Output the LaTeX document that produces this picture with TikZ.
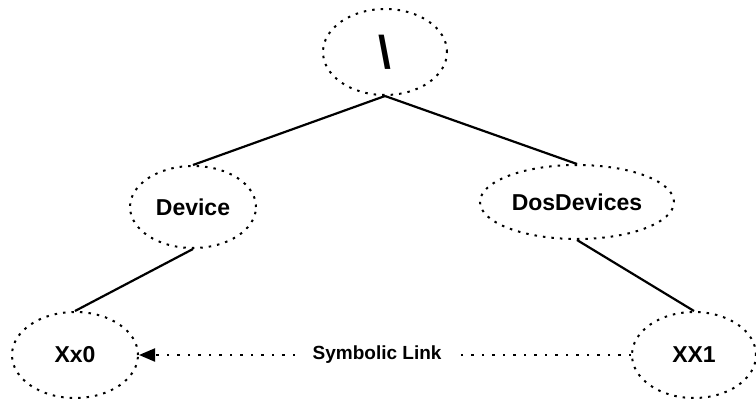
\documentclass[tikz,border=0pt]{standalone}
\usepackage{fontspec}
\setmainfont{Liberation Sans}
\usetikzlibrary{shapes.geometric,arrows.meta}
\tikzset{
  dirnode/.style={ellipse, draw, line width=2pt, dash pattern=on 2.5pt off 6pt,
    inner sep=0pt, font=\fontsize{23}{27}\selectfont\bfseries},
  treeline/.style={line width=2.2pt},
  linkline/.style={line width=2pt, dash pattern=on 2.5pt off 8pt,
    -{Triangle[length=16pt,width=13pt]}}
}
\begin{document}
\begin{tikzpicture}[x=1pt,y=-1pt]
\useasboundingbox (0,0) rectangle (756,399);

% Drawing directory nodes
\node [dirnode, minimum width=124pt, minimum height=86pt] (root) at (385,52)
  {\fontsize{46}{50}\selectfont\textbackslash};
\node [dirnode, minimum width=126pt, minimum height=82pt] (device) at (193,207) {Device};
\node [dirnode, minimum width=194pt, minimum height=74pt] (dosdev) at (577,202) {DosDevices};
\node [dirnode, minimum width=126pt, minimum height=86pt] (xx0) at (75,355) {Xx0};
\node [dirnode, minimum width=124pt, minimum height=86pt] (xx1) at (694,355) {XX1};

% Drawing tree edges
\draw [treeline] (root.south) -- (device.north);
\draw [treeline] (root.south) -- (dosdev.north);
\draw [treeline] (device.south) -- (xx0.north);
\draw [treeline] (dosdev.south) -- (xx1.north);

% Drawing symbolic link
\draw [linkline] (xx1.west) -- node [pos=0.516, fill=white, inner xsep=12pt,
  font=\fontsize{19}{22}\selectfont\bfseries] (link) {Symbolic Link} (xx0.east);
\end{tikzpicture}
\end{document}
